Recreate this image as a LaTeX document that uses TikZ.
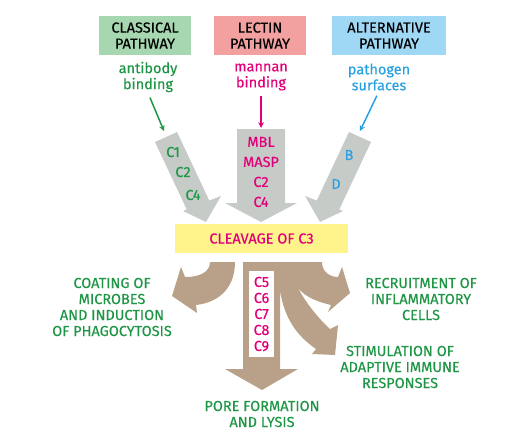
\documentclass[tikz,border=0pt]{standalone}
\usepackage{fontspec}
\setmainfont{Fira Sans}
\newfontfamily\diagfont{Fira Sans}[FakeBold=0.3]
\usepackage{tikz}
\usetikzlibrary{positioning,arrows}
\definecolor{clsgreen}{RGB}{166,215,176}
\definecolor{lecpink}{RGB}{242,160,160}
\definecolor{altblue}{RGB}{158,216,245}
\definecolor{txtgreen}{RGB}{30,150,70}
\definecolor{txtmag}{RGB}{226,0,122}
\definecolor{txtblue}{RGB}{40,160,226}
\definecolor{arrgray}{RGB}{198,203,199}
\definecolor{cleave}{RGB}{255,243,140}
\definecolor{arrtan}{RGB}{185,161,137}

\begin{document}
\begin{tikzpicture}[x=1pt, y=-1pt, >=stealth, line width=1.5pt, inner sep=0pt, font=\diagfont\fontsize{14.5}{16}\selectfont]
			\tikzstyle{pathway}=[text=black, align=center, minimum height=39pt]
			\tikzstyle{trigger}=[align=center]
			\tikzstyle{outcome}=[align=center, text=txtgreen]
			\useasboundingbox (0,0) rectangle (521,447);

			% pathways and what starts them
			\node[pathway, fill=clsgreen, minimum width=92pt] (classical) at (145,35.5) {CLASSICAL\\PATHWAY};
			\node[pathway, fill=lecpink, minimum width=92pt] (lectin) at (260,35.5) {LECTIN\\PATHWAY};
			\node[pathway, fill=altblue, minimum width=114pt] (alternative) at (389,35.5) {ALTERNATIVE\\PATHWAY};
			\node[trigger, text=txtgreen] (antibody) at (148,77) {antibody\\binding};
			\node[trigger, text=txtmag] (mannan) at (261,77) {mannan\\binding};
			\node[trigger, text=txtblue] (pathogen) at (379,77) {pathogen\\surfaces};

			% grey block arrows
			\fill[arrgray] (155,142) -- (177,132) -- (209.3,200.6) -- (221,196) -- (206,222) -- (183,211) -- (186.7,209.4) -- cycle;
			\fill[arrgray] (237,129) -- (285,129) -- (285,203) -- (297,203) -- (261,222) -- (225,203) -- (237,203) -- cycle;
			\fill[arrgray] (371,142) -- (349,132) -- (316.7,200.6) -- (305,196) -- (320,222) -- (343,211) -- (339.3,209.4) -- cycle;
			\coordinate (cIn) at (164,131);
			\coordinate (lIn) at (261,128);
			\coordinate (aIn) at (360,131);

			\draw[->, txtgreen, shorten <=5pt] (antibody.south) -- (cIn);
			\draw[->, txtmag, shorten <=5pt] (mannan.south) -- (lIn);
			\draw[->, txtblue, shorten <=5pt] (pathogen.south) -- (aIn);

			\node[text=txtgreen] (cone) at (173,152) {C1};
			\node[text=txtgreen] (ctwo) at (183,172) {C2};
			\node[text=txtgreen] (cfour) at (193,195) {C4};
			\node[align=center, text=txtmag, font=\diagfont\fontsize{14.5}{20}\selectfont] (mbl) at (261,172) {MBL\\MASP\\C2\\C4};
			\node[text=txtblue] (fb) at (349,155) {B};
			\node[text=txtblue] (fd) at (336,184) {D};

			\node[fill=cleave, minimum width=173pt, minimum height=29pt, text=txtmag] (cleavage) at (261.5,238.5) {CLEAVAGE OF C3};

			% brown arrows out of C3
			\fill[arrtan] (210,262) -- (235,262) .. controls (235,285) and (222,302) .. (196,305) -- (197,313) -- (172,296) -- (181,267) -- (185,277) .. controls (200,277) and (210,272) .. (210,262) -- cycle;
			\fill[arrtan] (243,262) -- (322,262) .. controls (322,272) and (330,277) .. (338,277) -- (342,267) -- (350,293) -- (328,312) -- (331,305) .. controls (318,302) and (305,297) .. (298,288) .. controls (306,303) and (318,318) .. (330,329) -- (338,325) -- (335,355) -- (312,354) -- (316,349) .. controls (297,336) and (284,318) .. (280,290) -- (280,369) -- (298,369) -- (262,390) -- (225,369) -- (243,369) -- cycle;
			\node[fill=white, minimum width=25pt, minimum height=86pt, align=center, text=txtmag] (cfive) at (261.5,314) {C5\\C6\\C7\\C8\\C9};

			\node[outcome] (coating) at (112,307) {COATING OF\\MICROBES\\AND INDUCTION\\OF PHAGOCYTOSIS};
			\node[outcome] (recruit) at (421,299) {RECRUITMENT OF\\INFLAMMATORY\\CELLS};
			\node[outcome] (adaptive) at (400,367) {STIMULATION OF\\ADAPTIVE IMMUNE\\RESPONSES};
			\node[outcome] (pore) at (262,414) {PORE FORMATION\\AND LYSIS};
		\end{tikzpicture}
\end{document}
